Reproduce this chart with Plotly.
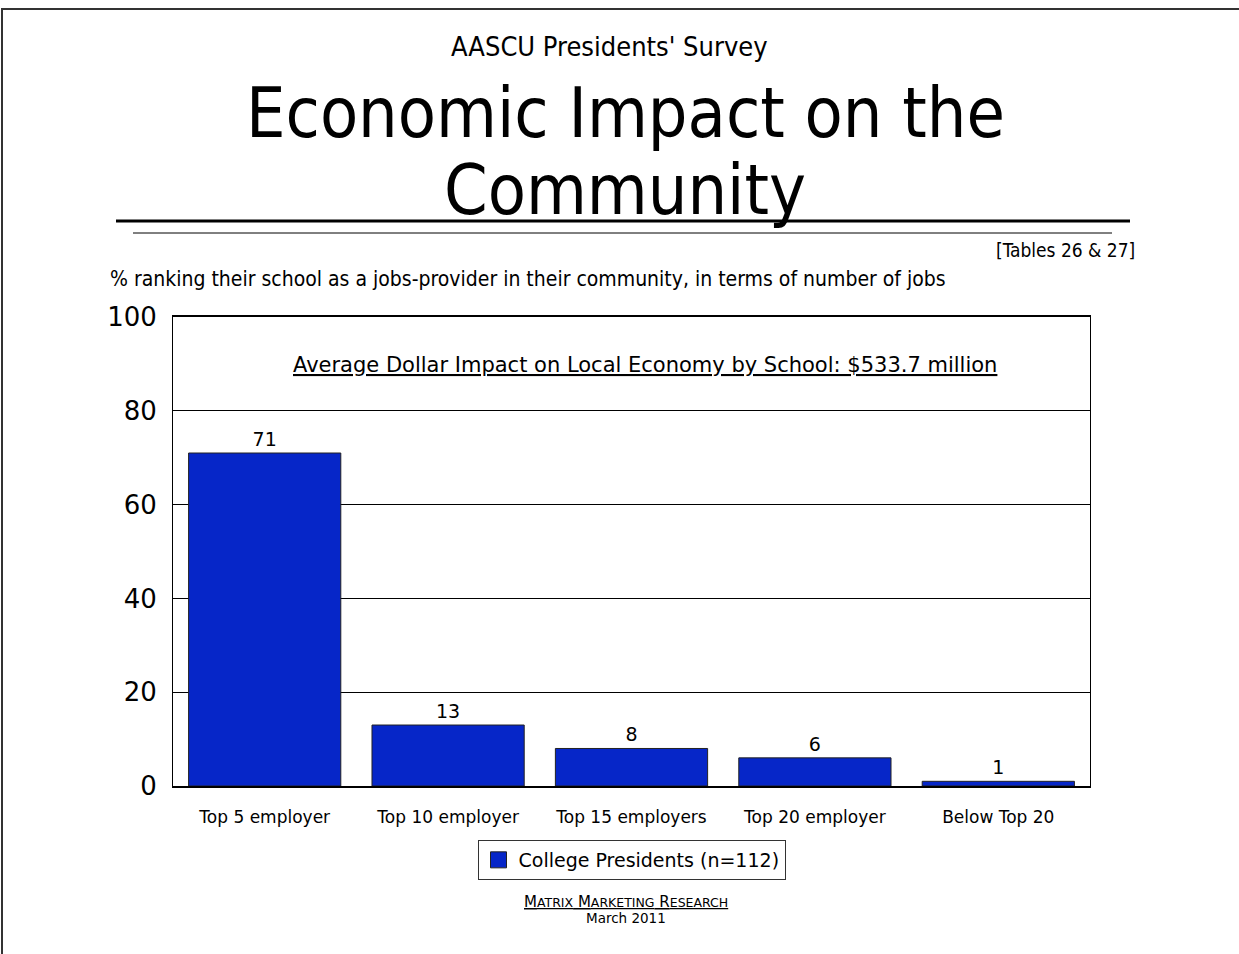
import plotly.graph_objects as go

categories = ["Top 5 employer", "Top 10 employer", "Top 15 employers", "Top 20 employer", "Below Top 20"]
values = [71, 13, 8, 6, 1]
y_ticks = [0, 20, 40, 60, 80, 100]
series_name = "College Presidents (n=112)"

BAR_COLOR = "#0626C8"
# plot area in page pixels (body margin removed in post_script)
L, R, T, B = 173, 1090, 317, 786
W, H = 1239, 954

def px(x):
    return (x - L) / (R - L)

def py(y):
    return (B - y) / (B - T)

BODY = "DejaVu Sans"
TITLE = "DejaVu Sans Condensed, Liberation Sans Narrow, sans-serif"
NARROW = "Liberation Sans Narrow, DejaVu Sans Condensed, sans-serif"

fig = go.Figure()
fig.add_trace(go.Bar(
    x=categories, y=values, name=series_name, showlegend=False,
    marker=dict(color=BAR_COLOR, line=dict(color="#222222", width=1)),
    text=[str(v) for v in values], textposition="outside",
    textfont=dict(family=BODY, size=19, color="black"),
    cliponaxis=False,
))
# legend entry with a larger square swatch
fig.add_trace(go.Scatter(
    x=[None], y=[None], mode="markers", name=series_name, showlegend=True,
    marker=dict(symbol="square", size=19, color=BAR_COLOR, line=dict(color="#222222", width=1)),
))

shapes = [
    dict(type="line", xref="paper", yref="paper", x0=px(116), x1=px(1130), y0=py(221), y1=py(221),
         line=dict(color="black", width=3)),
    dict(type="line", xref="paper", yref="paper", x0=px(133), x1=px(1112), y0=py(233), y1=py(233),
         line=dict(color="black", width=1)),
    dict(type="rect", xref="paper", yref="paper", x0=px(2), x1=px(1270), y0=py(9), y1=py(990),
         line=dict(color="#333333", width=2)),
]

mmr = ("<u>M<span style='font-size:12.5px'>ATRIX</span> M<span style='font-size:12.5px'>ARKETING</span> "
       "R<span style='font-size:12.5px'>ESEARCH</span></u>")

annotations = [
    dict(text="AASCU Presidents' Survey", x=px(609), y=py(47), xref="paper", yref="paper",
         showarrow=False, xanchor="center", yanchor="middle",
         font=dict(family=NARROW, size=27, color="black")),
    dict(text="Economic Impact on the", x=px(625), y=py(112), xref="paper", yref="paper",
         showarrow=False, xanchor="center", yanchor="middle",
         font=dict(family=TITLE, size=69.5, color="black")),
    dict(text="Community", x=px(625), y=py(190), xref="paper", yref="paper",
         showarrow=False, xanchor="center", yanchor="middle",
         font=dict(family=TITLE, size=69.5, color="black")),
    dict(text="[Tables 26 & 27]", x=px(1137), y=py(250), xref="paper", yref="paper",
         showarrow=False, xanchor="right", yanchor="middle",
         font=dict(family=NARROW, size=19, color="black")),
    dict(text="% ranking their school as a jobs-provider in their community, in terms of number of jobs",
         x=px(108), y=py(279), xref="paper", yref="paper",
         showarrow=False, xanchor="left", yanchor="middle",
         font=dict(family=NARROW, size=21, color="black")),
    dict(text="<u>Average Dollar Impact on Local Economy by School: $533.7 million</u>",
         x=px(645), y=py(365), xref="paper", yref="paper",
         showarrow=False, xanchor="center", yanchor="middle",
         font=dict(family=BODY, size=21, color="black")),
    dict(text=mmr, x=px(626), y=py(902), xref="paper", yref="paper",
         showarrow=False, xanchor="center", yanchor="middle",
         font=dict(family=BODY, size=15, color="black")),
    dict(text="March 2011", x=px(626), y=py(918), xref="paper", yref="paper",
         showarrow=False, xanchor="center", yanchor="middle",
         font=dict(family=BODY, size=13.5, color="black")),
]

fig.update_layout(
    width=W, height=H,
    margin=dict(l=L, r=W - R, t=T, b=H - B, pad=0),
    paper_bgcolor="white", plot_bgcolor="white",
    bargap=0.17,
    showlegend=True,
    legend=dict(x=0.5, xanchor="center", y=py(840), yanchor="top",
                bordercolor="#333333", borderwidth=1, bgcolor="white",
                font=dict(family=BODY, size=19, color="black"),
                itemwidth=30, itemclick=False),
    shapes=shapes,
    annotations=annotations,
    xaxis=dict(showline=True, linecolor="black", linewidth=2, mirror=True,
               tickfont=dict(family=BODY, size=17, color="black"),
               ticks="", showgrid=False, ticklabelstandoff=15),
    yaxis=dict(range=[0, 100], tickvals=y_ticks, showline=True, linecolor="black", linewidth=1,
               mirror=True, showgrid=True, gridcolor="black", gridwidth=1,
               tickfont=dict(family=BODY, size=26, color="black"),
               ticks="", ticklabelstandoff=10, zeroline=False),
)

fig.write_html("out.html", config={"displayModeBar": False},
               post_script="document.body.style.margin='0';")
